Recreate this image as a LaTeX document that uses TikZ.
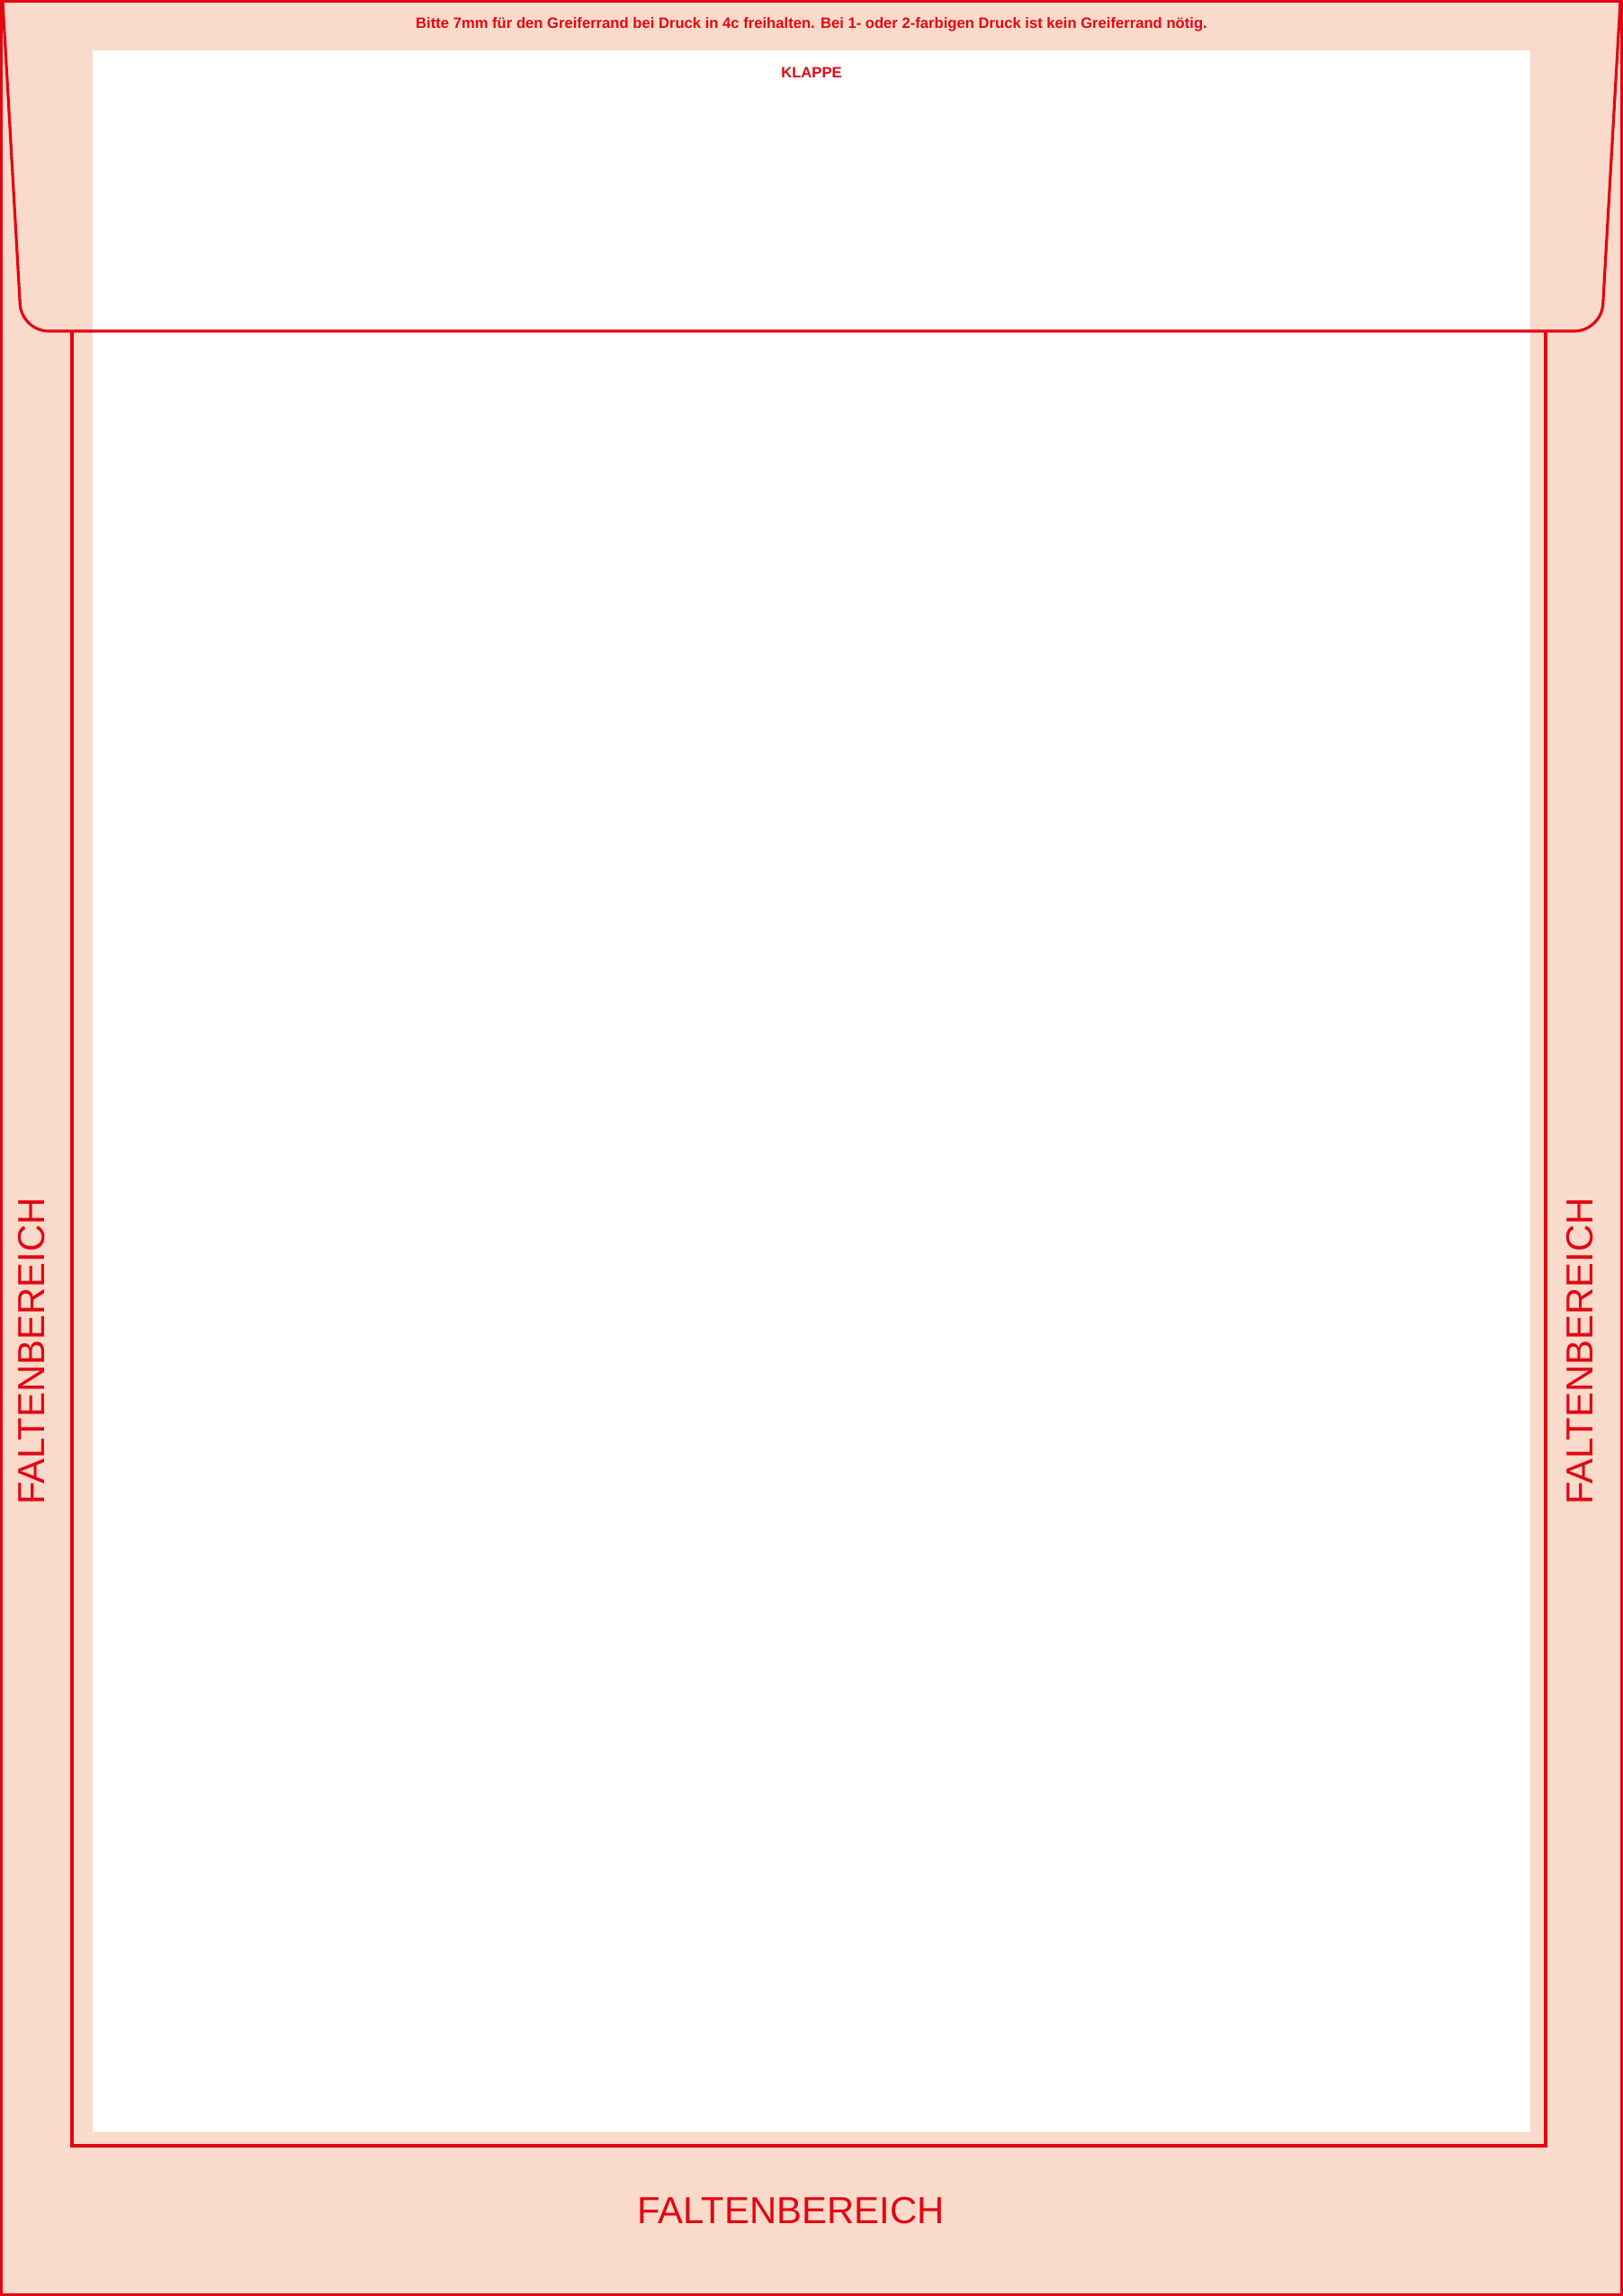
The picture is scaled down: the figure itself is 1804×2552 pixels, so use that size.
\documentclass[tikz,border=0pt]{standalone}
\usepackage{fontspec}
\setmainfont{Liberation Sans}
\definecolor{cutred}{RGB}{227,6,19}
\definecolor{foldpeach}{RGB}{250,218,202}

\begin{document}
\begin{tikzpicture}[x=0.01cm,y=-0.01cm]
    \tikzstyle{cutline}=[draw=cutred, line width=0.9pt]
    \tikzstyle{hint}=[text=cutred, inner sep=0pt, font=\fontsize{4.73pt}{6pt}\selectfont\bfseries]
    \tikzstyle{foldlabel}=[text=cutred, inner sep=0pt, font=\fontsize{11.9pt}{14pt}\selectfont]
    \useasboundingbox (0,0) rectangle (1804,2552);

    % sheet
    \fill[foldpeach] (0,0) rectangle (1804,2552);
    \fill[white] (103,56) rectangle (1701,2370);
    \draw[cutline] (1.5,1.5) rectangle (1802.5,2550.5);

    % flap
    \draw[cutline, rounded corners=0.3cm] (3,1.5) -- (24,368) -- (1780,368) -- (1801,1.5);

    % fold lines
    \draw[cutline] (80,368) -- (80,2385) -- (1718,2385) -- (1718,368);

    % labels
    \node[hint, anchor=base] (greifer) at (902,32) {Bitte 7mm für den Greiferrand bei Druck in 4c freihalten. Bei 1- oder 2-farbigen Druck ist kein Greiferrand nötig.};
    \node[hint, anchor=base] (klappe) at (902,87) {KLAPPE};
    \node[foldlabel] (faltunten) at (879,2457) {FALTENBEREICH};
    \node[foldlabel, rotate=90] (faltlinks) at (35,1502) {FALTENBEREICH};
    \node[foldlabel, rotate=90] (faltrechts) at (1756,1502) {FALTENBEREICH};
\end{tikzpicture}
\end{document}
